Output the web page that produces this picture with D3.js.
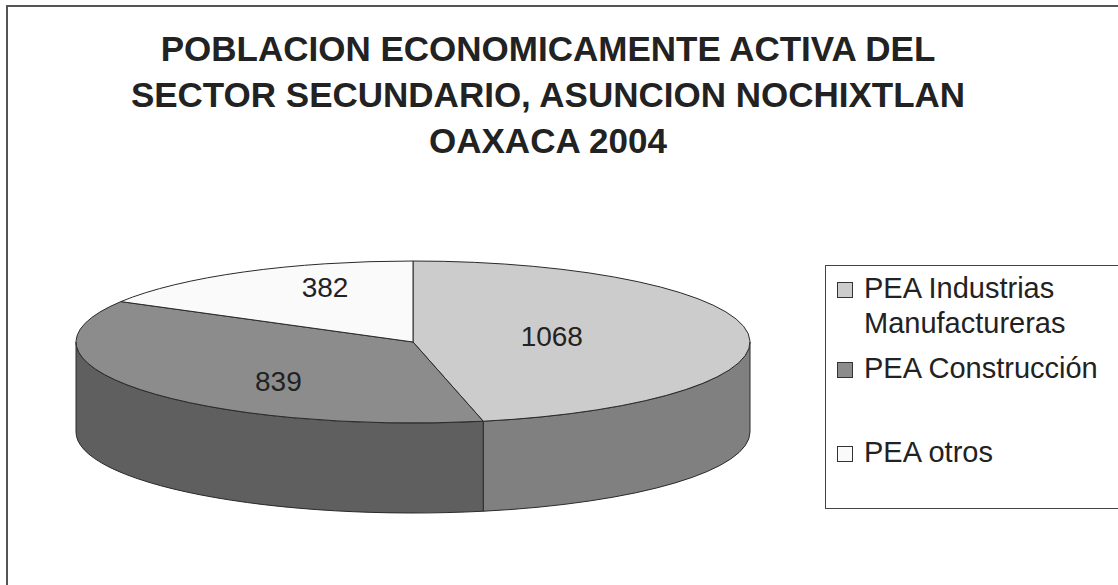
<!DOCTYPE html>
<html>
<head>
<meta charset="utf-8">
<script src="https://cdn.jsdelivr.net/npm/d3@7"></script>
<style>
  body { margin: 0; background: #fff; }
  svg { display: block; font-family: 'Liberation Sans', Arial, sans-serif; }
</style>
</head>
<body>
<div id="chart"></div>
<script>
(function() {
const width = 1118,
      height = 585

// data
const categories = ['PEA Industrias Manufactureras', 'PEA Construcción', 'PEA otros']
const values = [1068, 839, 382]
const legendLines = [['PEA Industrias', 'Manufactureras'], ['PEA Construcción'], ['PEA otros']]
const titleLines = [
  'POBLACION ECONOMICAMENTE ACTIVA DEL',
  'SECTOR SECUNDARIO, ASUNCION NOCHIXTLAN',
  'OAXACA 2004'
]

const topColors = ['#cccccc', '#8c8c8c', '#fafafa']
const sideColors = ['#808080', '#5f5f5f', '#cfcfcf']

const cx = 413, cy = 342, rx = 337, ry = 81, depth = 90

const svg = d3.select('#chart')
  .append('svg')
  .attr('width', width)
  .attr('height', height)

// outer frame (runs off right and bottom)
svg.append('rect')
  .attr('x', 7).attr('y', 6)
  .attr('width', width + 20).attr('height', height + 20)
  .attr('fill', 'none')
  .attr('stroke', '#555')
  .attr('stroke-width', 2)

// title
svg.append('text')
  .attr('text-anchor', 'middle')
  .style('font-size', '35px')
  .style('font-weight', 'bold')
  .attr('fill', '#222')
  .selectAll('tspan')
  .data(titleLines)
  .enter().append('tspan')
  .attr('x', 548)
  .attr('y', function(d, i) { return 61 + i * 46 })
  .text(function(d) { return d })

const topColor = d3.scaleOrdinal().domain(categories).range(topColors)
const sideColor = d3.scaleOrdinal().domain(categories).range(sideColors)

const pie = d3.pie().sort(null).value(function(d) { return d.value })
const arcs = pie(categories.map(function(c, i) { return { name: c, value: values[i] } }))

function pt(a, dy) {
  return [cx + rx * Math.sin(a), cy - ry * Math.cos(a) + (dy || 0)]
}

const g = svg.append('g')

// visible side walls (front half: angle between PI/2 and 3PI/2)
arcs.forEach(function(d) {
  const a0 = Math.max(d.startAngle, Math.PI / 2)
  const a1 = Math.min(d.endAngle, 3 * Math.PI / 2)
  if (a1 <= a0) return
  const p0 = pt(a0), p1 = pt(a1), q1 = pt(a1, depth), q0 = pt(a0, depth)
  const path = 'M' + p0 + ' A' + rx + ',' + ry + ' 0 0 1 ' + p1 +
    ' L' + q1 + ' A' + rx + ',' + ry + ' 0 0 0 ' + q0 + ' Z'
  g.append('path')
    .attr('d', path)
    .attr('fill', sideColor(d.data.name))
    .attr('stroke', '#2a2a2a')
    .attr('stroke-width', 1)
    .attr('stroke-linejoin', 'round')
})

// top faces
g.selectAll('.top')
  .data(arcs)
  .enter().append('path')
  .attr('class', 'top')
  .attr('d', function(d) {
    const p0 = pt(d.startAngle), p1 = pt(d.endAngle)
    const large = (d.endAngle - d.startAngle) > Math.PI ? 1 : 0
    return 'M' + cx + ',' + cy + ' L' + p0 + ' A' + rx + ',' + ry + ' 0 ' + large + ' 1 ' + p1 + ' Z'
  })
  .attr('fill', function(d) { return topColor(d.data.name) })
  .attr('stroke', '#2a2a2a')
  .attr('stroke-width', 1)
  .attr('stroke-linejoin', 'round')

// value labels
g.selectAll('.lbl')
  .data(arcs)
  .enter().append('text')
  .attr('class', 'lbl')
  .attr('text-anchor', 'middle')
  .style('font-size', '28px')
  .attr('fill', '#222')
  .attr('x', function(d) {
    const a = (d.startAngle + d.endAngle) / 2
    return cx + 0.45 * rx * Math.sin(a) - 12
  })
  .attr('y', function(d) {
    const a = (d.startAngle + d.endAngle) / 2
    return cy - 0.8 * ry * Math.cos(a) + 11
  })
  .text(function(d) { return d.data.value })

// legend
const legend = svg.append('g')
legend.append('rect')
  .attr('x', 825.5).attr('y', 265.5)
  .attr('width', 400).attr('height', 243)
  .attr('fill', '#fff')
  .attr('stroke', '#444')
  .attr('stroke-width', 1)

const rowY = [298, 378, 462]
const item = legend.selectAll('.item')
  .data(categories)
  .enter().append('g')
  .attr('class', 'item')

item.append('rect')
  .attr('x', 837.5)
  .attr('y', function(d, i) { return rowY[i] - 15.5 })
  .attr('width', 15).attr('height', 15)
  .attr('fill', function(d) { return topColor(d) })
  .attr('stroke', '#333')

item.append('text')
  .style('font-size', '29px')
  .attr('fill', '#222')
  .selectAll('tspan')
  .data(function(d, i) { return legendLines[i].map(function(t) { return { t: t, y: rowY[i] } }) })
  .enter().append('tspan')
  .attr('x', 864)
  .attr('y', function(d, j) { return d.y + j * 35 })
  .text(function(d) { return d.t })

})()
</script>
</body>
</html>
